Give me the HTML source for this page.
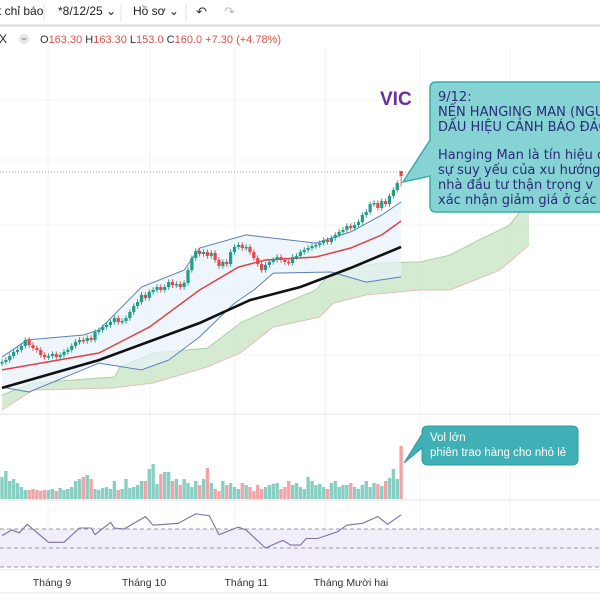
<!DOCTYPE html>
<html><head><meta charset="utf-8"><style>
html,body{margin:0;padding:0;background:#fff;}
body{width:600px;height:600px;overflow:hidden;position:relative;font-family:"Liberation Sans","DejaVu Sans",sans-serif;}
svg{position:absolute;left:0;top:0;}
</style></head><body>
<svg id="chart" width="600" height="600" viewBox="0 0 600 600" xmlns="http://www.w3.org/2000/svg">
  <rect x="0" y="0" width="600" height="600" fill="#ffffff"/>
  <g>
    <rect x="0" y="0" width="600" height="25" fill="#ffffff"/>
    <line x1="0" y1="25.5" x2="600" y2="25.5" stroke="#d8d8d8" stroke-width="2"/>
    <text x="-2" y="15" font-size="12" fill="#222">t chỉ báo</text>
    <line x1="44" y1="4" x2="44" y2="21" stroke="#e0e0e0"/>
    <text x="58" y="15" font-size="12" fill="#222">*8/12/25 ⌄</text>
    <line x1="121" y1="4" x2="121" y2="21" stroke="#e0e0e0"/>
    <text x="133" y="15" font-size="12" fill="#222">Hồ sơ ⌄</text>
    <line x1="186" y1="4" x2="186" y2="21" stroke="#e0e0e0"/>
    <text x="196" y="16" font-size="13" fill="#333">↶</text>
    <text x="224" y="16" font-size="13" fill="#bbb">↷</text>
  </g>
  <g font-size="11">
    <text x="-1" y="43" font-size="12" fill="#222">X</text>
    <circle cx="24" cy="39" r="5" fill="#e6e6e6"/>
    <line x1="22" y1="39" x2="26" y2="39" stroke="#777"/>
    <text x="40" y="43"><tspan fill="#333">O</tspan><tspan fill="#d9534f">163.30 </tspan><tspan fill="#333">H</tspan><tspan fill="#d9534f">163.30 </tspan><tspan fill="#333">L</tspan><tspan fill="#d9534f">153.0 </tspan><tspan fill="#333">C</tspan><tspan fill="#d9534f">160.0 +7.30 (+4.78%)</tspan></text>
  </g>
  <g id="grid"></g>
  <g id="main"></g>
  <g id="vol"></g>
  <g id="rsi"></g>
  <g id="xaxis"></g>
  <text x="380" y="105" font-size="19" font-weight="bold" fill="#6b2fa0">VIC</text>
  <g>
    <path d="M436,82 H606 V212 H436 Q430,212 430,206 V176 L403,182 L430,140 V88 Q430,82 436,82 Z" fill="#86d3d3" stroke="#3aabab" stroke-width="1.5"/>
    <g font-family="'DejaVu Sans','Liberation Sans',sans-serif" font-size="13" fill="#2b2b7a">
      <text x="438" y="101">9/12:</text>
      <text x="438" y="116">NẾN HANGING MAN (NGUY</text>
      <text x="438" y="131">DẤU HIỆU CẢNH BÁO ĐẢO</text>
      <text x="438" y="159">Hanging Man là tín hiệu c</text>
      <text x="438" y="174"> sự suy yếu của xu hướng</text>
      <text x="438" y="189"> nhà đầu tư thận trọng v</text>
      <text x="438" y="204">xác nhận giảm giá ở các</text>
    </g>
  </g>
  <g>
    <path d="M428,426 H572 Q578,426 578,432 V459 Q578,465 572,465 H428 Q422,465 422,459 V448 L404,463 L422,434 V432 Q422,426 428,426 Z" fill="#3fb0b5" stroke="#2f9aa0" stroke-width="1"/>
    <text x="430" y="441" font-size="11.5" fill="#fff">Vol lớn</text>
    <text x="430" y="456" font-size="11.5" fill="#fff">phiên trao hàng cho nhỏ lẻ</text>
  </g>
</svg>
<script>
const closes=[36,37.3,40,42.7,44,46.7,50.7,47.3,45.3,44,40.7,39.3,40,41.3,39.3,40.7,42.7,44,46.7,49.3,50.7,50,52,50.7,56,57.3,59.3,60.7,62.7,65.3,62.7,63.3,65.3,69.3,73.3,76,80.7,78.7,82.7,84,86,84,86,89.3,87.3,88,86,88.7,97.3,105.3,110,108,109.3,106.7,108.7,104,100,102.7,101.3,109.3,112.7,114,112,112.7,109.3,105.3,101.3,97.3,100.7,102.7,104,106,104,102.7,102,106,106.7,109.3,110.7,112,113.3,114,115.3,117.3,116,118.7,120.7,122.7,124,126.7,125.3,127.3,129.3,134,136,141.3,142,138.7,143.3,141.3,146.7,150.7,155.3,160];
const lastOpen=163.3, lastHigh=163.3, lastLow=153;
const volumes=[22,28,18,20,16,12,9,9,10,9,8,9,9,10,8,11,9,10,12,18,20,22,24,20,10,9,11,12,10,18,9,10,20,11,12,14,18,18,30,35,15,25,27,27,18,20,14,20,16,12,18,14,20,31,16,10,8,18,14,16,12,10,16,14,12,8,14,10,12,14,15,16,10,12,18,14,16,12,10,22,18,14,15,12,10,16,18,12,14,14,16,12,10,14,18,12,16,15,13,18,21,30,20,53];
const rsiIdx=[0,2.5,4.5,6.5,12,16,20,23,24,28,29,31.5,37,39,45.5,50,53.5,56,61,63,68,72.5,74.5,77,78.5,81.5,86.5,89,93,97,99.5,103];
const rsiVal=[63,69,66,75,56,56,71,71,64,77,71,70,83,74,76,86,84,64,72,69,50,58,53,53,60,60,67,74,76,83,75,85];
const upperIdx=[0,6.5,21,25,36,47,51,63,81,90,98,103];
const upperVal=[39.3,50.7,54,57.3,86,97.3,112,120.7,115.3,122.7,134,142.7];
const lowerIdx=[0,7,25,36,43,51,60,65,70,85,94,103];
const lowerVal=[19.3,16,35.3,30.7,37.3,52.7,75.3,84,95.3,96,89.3,92.7];
const maRedIdx=[0,25,38,51,61,68,81,90,98,103];
const maRedVal=[30.7,42,59.3,84,99.3,104,106,112,120.7,130];
const maBlackIdx=[0,25,51,64,77,90,103];
const maBlackVal=[18.7,37.3,62,77.3,86,98.7,112.7];
const cloudTopIdx=[0,8,29,30.5,39,53,61.5,70,81,84,90,98,108,115.6,123,131,136];
const cloudTopVal=[14,22,26,32.7,42,45.3,62,72,84,92.7,99.3,102,102.7,107.3,117.3,127.3,144];
const cloudBotIdx=[0,8,29,39,53,61.5,70,82,85.5,94,108,115.6,128.5,136];
const cloudBotVal=[4,17.3,18.7,22,32.7,42,59.3,66,75.3,80.7,84,84,97.3,114];
const monthLabels=["Tháng 9","Tháng 10","Tháng 11","Tháng Mười hai"];
const monthIdx=[10.5,33.5,60,83];

const NS="http://www.w3.org/2000/svg";
const xS=i=>2+i*3.875;
const yP=p=>416-1.5*p;
const yV=v=>499-v;
const yR=r=>548-(r-50)*0.95;
function mk(parent,tag,attrs){const e=document.createElementNS(NS,tag);for(const k in attrs)e.setAttribute(k,attrs[k]);parent.appendChild(e);return e;}
const grid=document.getElementById('grid'),main=document.getElementById('main'),vol=document.getElementById('vol'),rsi=document.getElementById('rsi'),xa=document.getElementById('xaxis');

const defs=mk(document.getElementById('chart'),'defs',{});
const cp=mk(defs,'clipPath',{id:'mainclip'});mk(cp,'rect',{x:0,y:48,width:600,height:365});
main.setAttribute('clip-path','url(#mainclip)');

[48,150,235,325,420,510].forEach(x=>{const l=mk(grid,'line',{x1:x,y1:48,x2:x,y2:568,stroke:'#f2f2f2'});});
[100,160,225,290,355].forEach(y=>{const l=mk(grid,'line',{x1:0,y1:y,x2:600,y2:y,stroke:'#f4f4f4'});});
[[414,'price-volume-divider'],[500,'volume-rsi-divider'],[570,'rsi-axis-divider'],[593,'bottom-border']].forEach(([y,n])=>{const l=mk(grid,'line',{x1:0,y1:y,x2:600,y2:y,stroke:'#e6e6e6'});});

function pts(idx,val){return idx.map((i,k)=>xS(i).toFixed(1)+','+yP(val[k]).toFixed(1));}
const cloud=mk(main,'polygon',{points:pts(cloudTopIdx,cloudTopVal).concat(pts(cloudBotIdx,cloudBotVal).reverse()).join(' '),fill:'#cfe8cc',opacity:0.9});

const ct=mk(main,'polyline',{points:pts(cloudTopIdx,cloudTopVal).join(' '),fill:'none',stroke:'#a8d3a4','stroke-width':1});

const cb=mk(main,'polyline',{points:pts(cloudBotIdx,cloudBotVal).join(' '),fill:'none',stroke:'#e2c0b8','stroke-width':1});

const bf=mk(main,'polygon',{points:pts(upperIdx,upperVal).concat(pts(lowerIdx,lowerVal).reverse()).join(' '),fill:'#e8f2fa',opacity:0.7});

const bu=mk(main,'polyline',{points:pts(upperIdx,upperVal).join(' '),fill:'none',stroke:'#5b7fb8','stroke-width':1});

const bl=mk(main,'polyline',{points:pts(lowerIdx,lowerVal).join(' '),fill:'none',stroke:'#5b7fb8','stroke-width':1});

const mr=mk(main,'polyline',{points:pts(maRedIdx,maRedVal).join(' '),fill:'none',stroke:'#e0404a','stroke-width':1.5});

const mb=mk(main,'polyline',{points:pts(maBlackIdx,maBlackVal).join(' '),fill:'none',stroke:'#111','stroke-width':2.6});

const lp=mk(main,'line',{x1:0,y1:yP(closes[closes.length-1])-4,x2:430,y2:yP(closes[closes.length-1])-4,stroke:'#999','stroke-dasharray':'1,2'});

closes.forEach((c,i)=>{
  const last=i===closes.length-1;
  const o=last?lastOpen:(i===0?35:closes[i-1]);
  const up=c>=o;const col=up?'#1f9d86':'#e8424c';
  const hi=last?lastHigh:Math.max(o,c)+1.8, lo=last?lastLow:Math.min(o,c)-1.8;
  const x=xS(i);
  const w=mk(main,'line',{x1:x,y1:yP(hi),x2:x,y2:yP(lo),stroke:col,'stroke-width':0.9});
  
  const top=yP(Math.max(o,c)),h=Math.max(1.5,Math.abs(yP(o)-yP(c)));
  const b=mk(main,'rect',{x:x-1.6,y:top,width:3.2,height:h,fill:col});
  
  const vb=mk(vol,'rect',{x:x-1.7,y:yV(volumes[i]),width:3.4,height:volumes[i],fill:up?'#86cfc2':'#f3a3a8'});
  
});
const band=mk(rsi,'rect',{x:0,y:yR(70),width:600,height:yR(30)-yR(70),fill:'#f1edf9'});

[70,50,30].forEach(v=>{const l=mk(rsi,'line',{x1:0,y1:yR(v),x2:600,y2:yR(v),stroke:'#9a9aa8','stroke-dasharray':'4,3'});});
const rl=mk(rsi,'polyline',{points:rsiIdx.map((i,k)=>xS(i).toFixed(1)+','+yR(rsiVal[k]).toFixed(1)).join(' '),fill:'none',stroke:'#7e6fa0','stroke-width':1.1});

monthLabels.forEach((t,k)=>{const e=mk(xa,'text',{x:xS(monthIdx[k])-10,y:586,'font-size':10.5,fill:'#333'});e.textContent=t;});
</script>
</body></html>
